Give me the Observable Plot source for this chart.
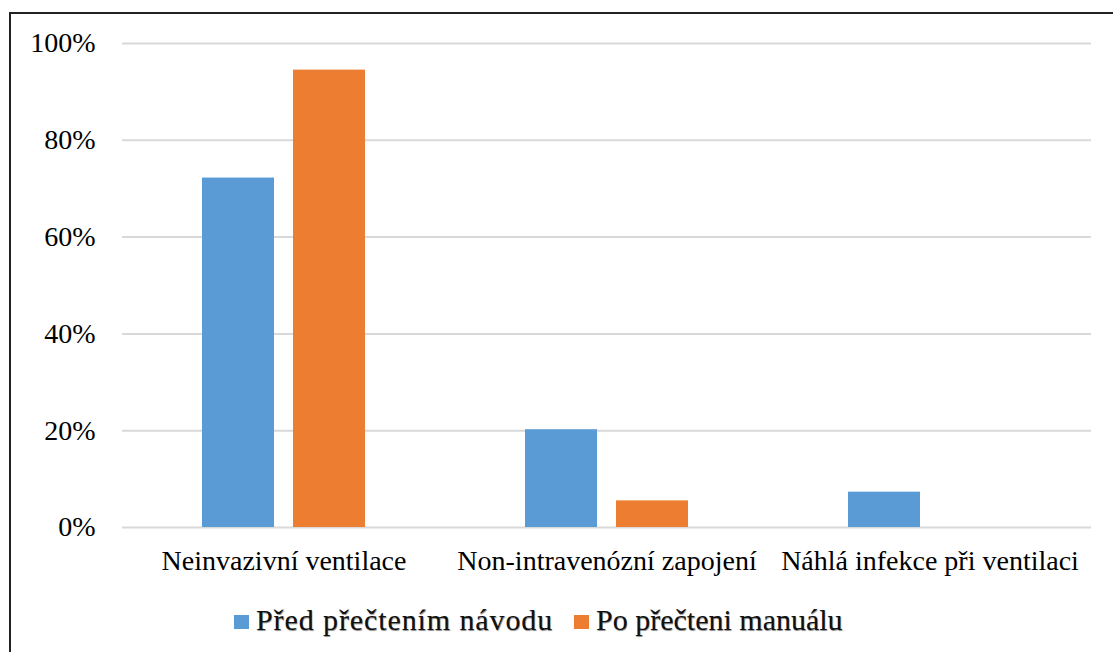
<!DOCTYPE html>
<html>
<head>
<meta charset="utf-8">
<script src="https://cdn.jsdelivr.net/npm/d3@7"></script>
<script src="https://cdn.jsdelivr.net/npm/@observablehq/plot@0.6"></script>
<style>
  html, body { margin: 0; padding: 0; background: #fff; overflow: hidden; width: 1113px; height: 652px; }
  #frame { position: absolute; left: 9px; top: 12px; width: 1200px; height: 800px; border: 2px solid #222; box-sizing: border-box; }
  #chart { position: absolute; left: 0; top: 0; }
  #chart svg text { font-family: "Liberation Serif", Tinos, "Times New Roman", Times, "DejaVu Serif", serif; }
  #legend { position: absolute; top: 603px; left: 0; width: 1113px; font-family: "Liberation Serif", Tinos, "Times New Roman", Times, "DejaVu Serif", serif; font-size: 30px; color: #111; }
  .item { position: absolute; white-space: nowrap; text-shadow: 0.6px 0.6px 0.8px rgba(0,0,0,0.45); }
  .sw { display: inline-block; width: 15px; height: 14px; margin-right: 7px; vertical-align: 1px; }
</style>
</head>
<body>
<div id="frame"></div>
<div id="chart"></div>
<div id="legend"></div>
<script>
const categories = ["Neinvazivní ventilace", "Non-intravenózní zapojení", "Náhlá infekce při ventilaci"];
const series = ["Před přečtením návodu", "Po přečteni manuálu"];
const beforeValues = [0.722, 0.202, 0.073];
const afterValues = [0.945, 0.055, 0];
const yTicks = [0, 0.2, 0.4, 0.6, 0.8, 1];
const colors = ["#5B9BD5", "#ED7D31"];

const data = categories.flatMap((c, i) => [
  {category: c, series: series[0], value: beforeValues[i]},
  {category: c, series: series[1], value: afterValues[i]}
]);

const chart = Plot.plot({
  width: 1113,
  height: 590,
  marginLeft: 121,
  marginRight: 22,
  marginTop: 43,
  marginBottom: 63,
  style: {fontFamily: "Liberation Serif, Tinos, Times New Roman, serif", fontSize: "28px", color: "#000", background: "transparent", overflow: "visible"},
  fx: {domain: categories, padding: 0, label: null, axis: "bottom", tickSize: 0, tickPadding: 23},
  x: {domain: series, paddingInner: 0.2065, paddingOuter: 0.859, axis: null},
  y: {domain: [0, 1], ticks: yTicks, tickFormat: d3.format(".0%"), tickSize: 0, tickPadding: 27, label: null},
  color: {domain: series, range: colors},
  marks: [
    Plot.ruleY(yTicks, {stroke: "#d9d9d9", strokeWidth: 2}),
    Plot.barY(data, {fx: "category", x: "series", y: "value", fill: "series"})
  ]
});
document.getElementById("chart").appendChild(chart);

const legend = document.getElementById("legend");
const positions = [234, 574];
const spacing = ["0.9px", "0px"];
series.forEach((s, i) => {
  const it = document.createElement("div");
  it.className = "item";
  it.style.left = positions[i] + "px";
  const sw = document.createElement("span");
  sw.className = "sw";
  sw.style.background = colors[i];
  it.appendChild(sw);
  const t = document.createElement("span");
  t.style.letterSpacing = spacing[i];
  t.textContent = s;
  it.appendChild(t);
  legend.appendChild(it);
});
</script>
</body>
</html>
